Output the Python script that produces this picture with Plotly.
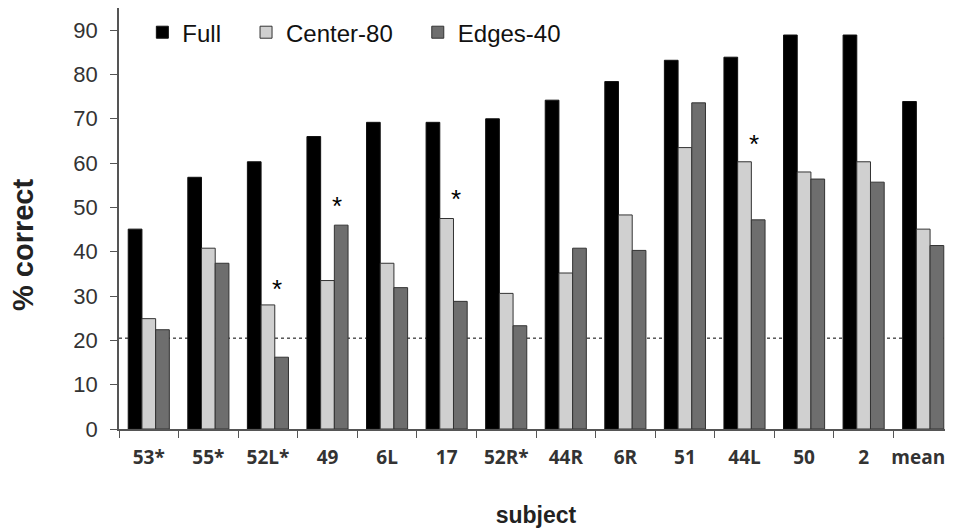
import plotly.graph_objects as go

subjects = ["53*", "55*", "52L*", "49", "6L", "17", "52R*", "44R", "6R", "51", "44L", "50", "2", "mean"]
full = [45.1, 56.8, 60.3, 66.0, 69.2, 69.2, 70.0, 74.2, 78.4, 83.2, 83.9, 88.9, 88.9, 73.9]
center80 = [24.9, 40.8, 28.0, 33.5, 37.4, 47.5, 30.6, 35.2, 48.3, 63.5, 60.3, 58.0, 60.3, 45.1]
edges40 = [22.4, 37.4, 16.2, 46.0, 31.9, 28.8, 23.3, 40.8, 40.3, 73.6, 47.2, 56.4, 55.7, 41.4]
chance = 20.5
star_subjects = ["52L*", "49", "17", "44L"]
star_values = [31.5, 50.3, 52.0, 64.4]

pad = "\u00a0" * 3
fig = go.Figure()
fig.add_bar(x=subjects, y=full, name="Full" + pad, marker=dict(color="#000000", line=dict(color="#111111", width=1)))
fig.add_bar(x=subjects, y=center80, name="Center-80" + pad, marker=dict(color="#d0d0d0", line=dict(color="#333333", width=1)))
fig.add_bar(x=subjects, y=edges40, name="Edges-40", marker=dict(color="#6e6e6e", line=dict(color="#333333", width=1)))

fig.add_shape(type="line", xref="paper", yref="y", x0=0, x1=1, y0=chance, y1=chance,
              line=dict(color="#000000", width=1, dash="dot"), layer="below")

for s, v in zip(star_subjects, star_values):
    fig.add_annotation(x=subjects.index(s), y=v, text="*", showarrow=False, xshift=9, yanchor="middle",
                       font=dict(family="Arial, Liberation Sans", size=26, color="#000"))

fig.add_annotation(text="<b>% correct</b>", textangle=-90, showarrow=False,
                   xref="paper", yref="paper", x=-0.1151, y=0.437,
                   xanchor="center", yanchor="middle",
                   font=dict(size=29, color="#222222", family="Arial, Liberation Sans"))

tick_text = ["<b>" + s + "</b>" for s in subjects]
tick_text[-1] = "<b>mean</b>\u00a0\u00a0"

fig.update_layout(
    width=945, height=520,
    margin=dict(l=111, r=0, t=0, b=99),
    plot_bgcolor="white", paper_bgcolor="white",
    barmode="group", bargap=0.31, bargroupgap=0,
    font=dict(family="Arial, Liberation Sans", color="#333333"),
    showlegend=True,
    legend=dict(orientation="h", x=0.028, y=0.995, xanchor="left", yanchor="top",
                font=dict(size=24, color="#111111"), bgcolor="rgba(0,0,0,0)",
                itemwidth=30, tracegroupgap=0),
    xaxis=dict(type="category", showline=True, linecolor="#555555", linewidth=1.5,
               ticks="outside", tickson="boundaries", ticklen=7, tickcolor="#555555",
               tickmode="array", tickvals=subjects, ticktext=tick_text,
               tickfont=dict(size=19, color="#333333", family="Open Sans, Arial"),
               tickangle=0, ticklabelstandoff=10, automargin=False,
               title=dict(text="<b>subject</b>", font=dict(size=23, color="#222222"), standoff=38),
               range=[-0.5, 13.5], showgrid=False),
    yaxis=dict(range=[0, 95], tickvals=[0, 10, 20, 30, 40, 50, 60, 70, 80, 90],
               showline=True, linecolor="#555555", linewidth=1.5,
               ticks="outside", ticklen=7, tickcolor="#555555", ticklabelstandoff=8,
               tickfont=dict(size=22, color="#333333"), showgrid=False, zeroline=False,
               automargin=False),
)
fig.write_html("out.html")
